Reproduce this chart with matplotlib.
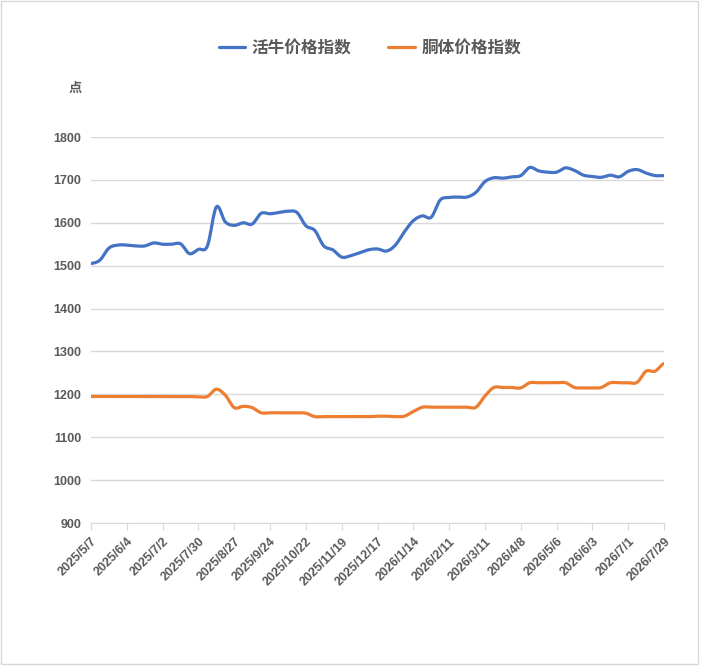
import numpy as np
import matplotlib
matplotlib.use("Agg")
import matplotlib.pyplot as plt
from matplotlib.patches import Rectangle

plt.rcParams['font.family'] = ['Noto Sans CJK SC', 'DejaVu Sans']

# weekly index values, 2025/5/7 .. 2026/7/29
cattle = [1505, 1513, 1541, 1548, 1548, 1546, 1546, 1553, 1550, 1550,
          1551, 1528, 1538, 1546, 1637, 1602, 1594, 1600, 1597, 1622,
          1621, 1624, 1627, 1624, 1593, 1582, 1546, 1537, 1520, 1523,
          1530, 1537, 1539, 1534, 1548, 1579, 1605, 1616, 1613, 1653,
          1659, 1660, 1660, 1671, 1696, 1705, 1704, 1707, 1710, 1729,
          1721, 1718, 1718, 1728, 1722, 1711, 1708, 1706, 1711, 1707,
          1720, 1724, 1716, 1710, 1710]
carcass = [1195, 1195, 1195, 1195, 1195, 1195, 1195, 1195, 1195, 1195,
           1195, 1195, 1194, 1195, 1212, 1198, 1169, 1172, 1169, 1157,
           1157, 1157, 1157, 1157, 1156, 1148, 1148, 1148, 1148, 1148,
           1148, 1148, 1149, 1149, 1148, 1149, 1160, 1170, 1170, 1170,
           1170, 1170, 1170, 1170, 1196, 1216, 1216, 1216, 1215, 1227,
           1227, 1227, 1227, 1227, 1216, 1215, 1215, 1216, 1227, 1227,
           1227, 1228, 1254, 1254, 1272]
tick_labels = ['2025/5/7', '2025/6/4', '2025/7/2', '2025/7/30', '2025/8/27',
               '2025/9/24', '2025/10/22', '2025/11/19', '2025/12/17',
               '2026/1/14', '2026/2/11', '2026/3/11', '2026/4/8', '2026/5/6',
               '2026/6/3', '2026/7/1', '2026/7/29']
names = ['活牛价格指数', '胴体价格指数']


def smooth(y, n=12):
    # catmull-rom curve through the points, like excel "smoothed line"
    y = np.asarray(y, float)
    p = np.concatenate([[y[0]], y, [y[-1]]])
    xs, ys = [], []
    for i in range(len(y) - 1):
        t = np.linspace(0, 1, n, endpoint=False)
        p0, p1, p2, p3 = p[i], p[i + 1], p[i + 2], p[i + 3]
        seg = 0.5 * ((2 * p1) + (-p0 + p2) * t
                     + (2 * p0 - 5 * p1 + 4 * p2 - p3) * t ** 2
                     + (-p0 + 3 * p1 - 3 * p2 + p3) * t ** 3)
        xs.append(i + t)
        ys.append(seg)
    xs.append([len(y) - 1])
    ys.append([y[-1]])
    return np.concatenate(xs), np.concatenate(ys)


fig = plt.figure(figsize=(7.01, 6.67), dpi=100)
ax = fig.add_axes([91 / 701, 1 - 523 / 667, (664 - 91) / 701, (523 - 137) / 667])

grey = '#595959'
num_font = ['Liberation Sans', 'DejaVu Sans']
for vals, col, name in [(cattle, '#4472C4', names[0]), (carcass, '#ED7D31', names[1])]:
    sx, sy = smooth(vals)
    ax.plot(sx, sy, color=col, lw=2.3, label=name, solid_capstyle='round')

ax.set_xlim(0, len(cattle) - 1)
ax.set_ylim(900, 1800)
ax.set_yticks(range(900, 1801, 100))
ax.set_xticks(range(0, len(cattle), 4))
ax.set_xticklabels(tick_labels, rotation=45, ha='right', rotation_mode='anchor')
ax.grid(axis='y', color='#d9d9d9', lw=1)
ax.set_axisbelow(True)
for s in ['top', 'right', 'left']:
    ax.spines[s].set_visible(False)
ax.spines['bottom'].set_color('#d9d9d9')
ax.tick_params(axis='y', length=0, pad=7, labelcolor=grey)
ax.tick_params(axis='x', length=5, color='#d9d9d9', pad=4, labelcolor=grey)
for lab in ax.get_xticklabels() + ax.get_yticklabels():
    lab.set_fontweight('bold')
    lab.set_family(num_font)
    lab.set_fontsize(9)

fig.text(75 / 701, 1 - 88 / 667, '点', ha='center', va='center',
         fontsize=9.5, fontweight='bold', color=grey)

fig.legend(loc='center', bbox_to_anchor=(370 / 701, 1 - 48 / 667), ncol=2,
           frameon=False, handlelength=1.6, columnspacing=2.2, handletextpad=0.4,
           prop={'size': 12, 'weight': 'bold'}, labelcolor=grey)

fig.patches.append(Rectangle((0.5 / 701, 3 / 667), 697 / 701, 663 / 667,
                             transform=fig.transFigure, fill=False,
                             edgecolor='#d9d9d9', lw=1))

fig.savefig('out.png', dpi=100)
